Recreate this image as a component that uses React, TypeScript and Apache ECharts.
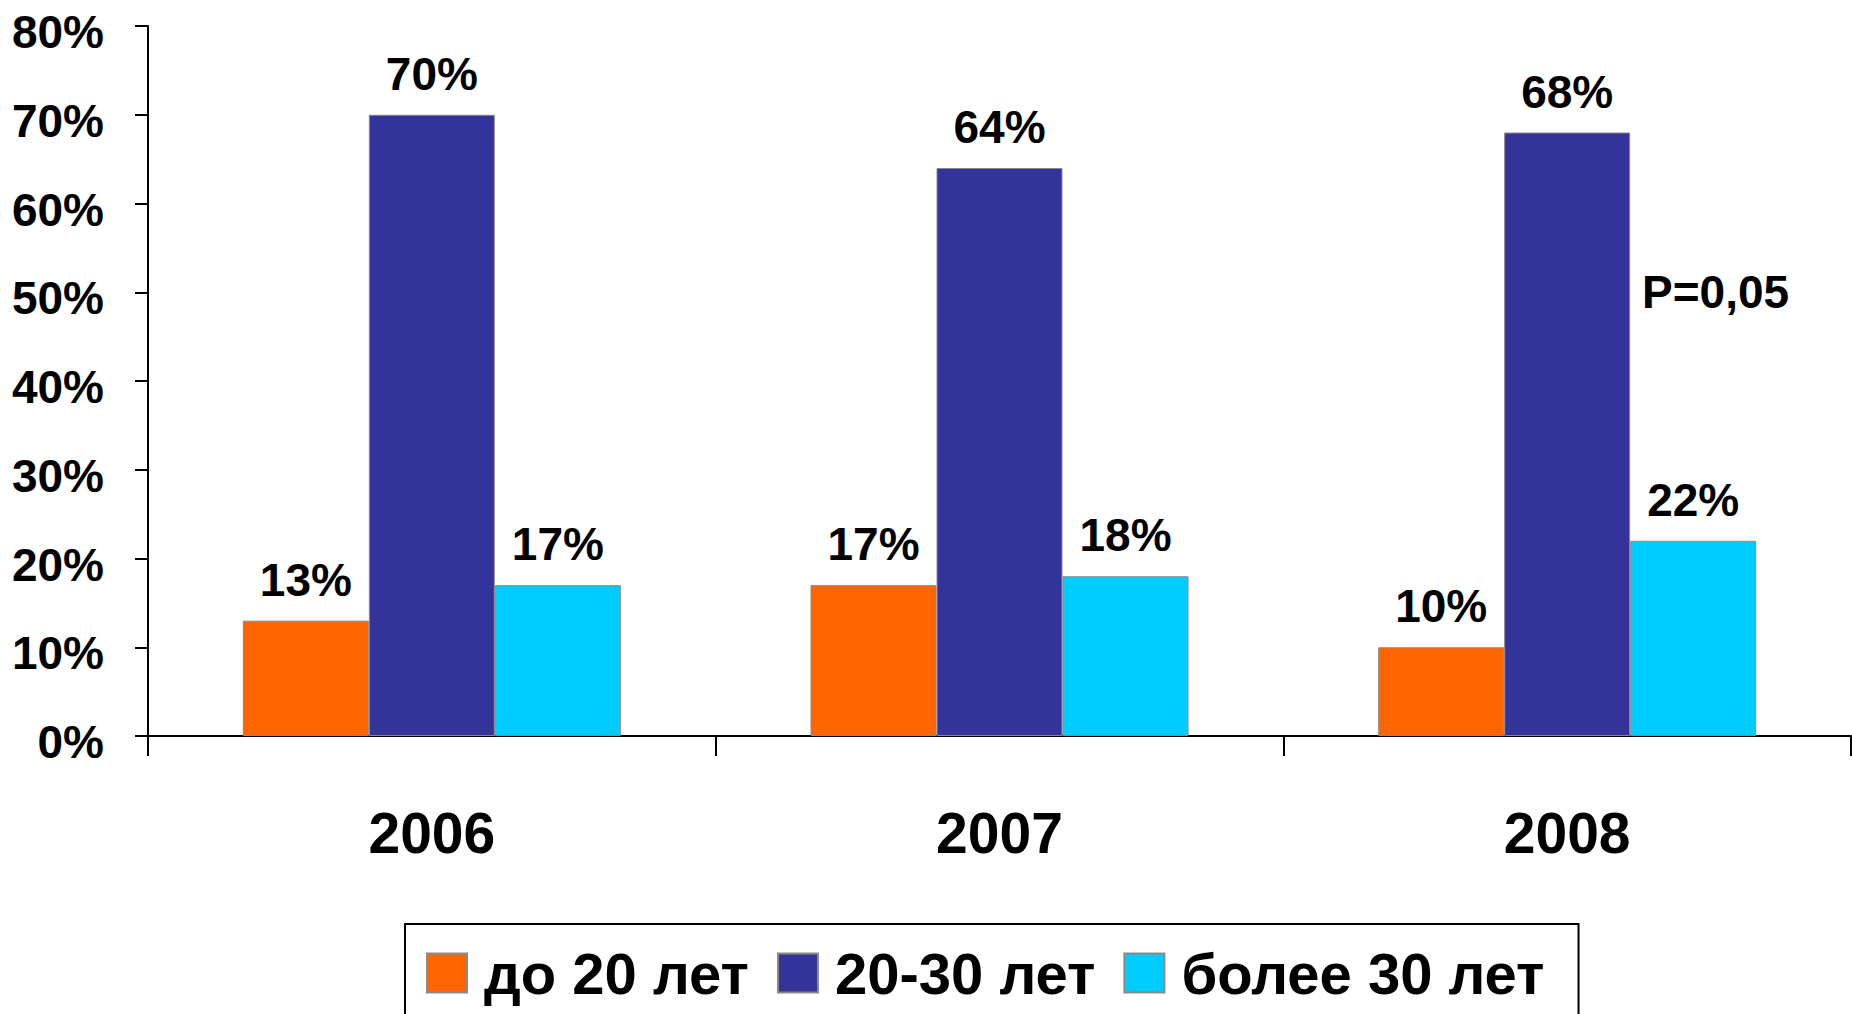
import React, { useEffect, useRef } from "react";
import * as echarts from "echarts";

const categories = ["2006", "2007", "2008"];
const seriesNames = ["до 20 лет", "20-30 лет", "более 30 лет"];
const under20 = [13, 17, 10];
const from20to30 = [70, 64, 68];
const over30 = [17, 18, 22];
const colors = ["#FF6600", "#333399", "#00CCFF"];
const annotation = "P=0,05";

const FONT = "'Liberation Sans', Arial, sans-serif";

export default function App() {
  const ref = useRef<HTMLDivElement>(null);
  useEffect(() => {
    document.body.style.margin = "0";
    const chart = echarts.init(ref.current!, null, { renderer: "svg" });
    const values = [under20, from20to30, over30];
    const labelStyle = {
      show: true,
      position: "top",
      distance: 18,
      formatter: "{c}%",
      color: "#000",
      fontSize: 46,
      fontWeight: "bold",
      fontFamily: FONT,
    };
    chart.setOption({
      animation: false,
      backgroundColor: "#fff",
      grid: { left: 148, right: 1, top: 26, height: 710, containLabel: false },
      legend: {
        left: 405,
        top: 924,
        orient: "horizontal",
        borderColor: "#000",
        borderWidth: 2,
        padding: [20, 34, 40, 21],
        itemWidth: 40,
        itemHeight: 39,
        itemGap: 28,
        icon: "rect",
        textStyle: {
          fontSize: 58,
          fontWeight: "bold",
          fontFamily: FONT,
          color: "#000",
          padding: [0, 0, 0, 12],
        },
        data: seriesNames,
      },
      xAxis: {
        type: "category",
        data: categories,
        boundaryGap: true,
        axisLine: { show: true, lineStyle: { color: "#000", width: 2 } },
        axisTick: { show: true, alignWithLabel: false, length: 20, lineStyle: { color: "#000", width: 2 } },
        axisLabel: { margin: 68, fontSize: 57, fontWeight: "bold", fontFamily: FONT, color: "#000" },
        splitLine: { show: false },
      },
      yAxis: {
        type: "value",
        min: 0,
        max: 80,
        interval: 10,
        axisLine: { show: true, lineStyle: { color: "#000", width: 2 } },
        axisTick: { show: true, inside: false, length: 13, lineStyle: { color: "#000", width: 2 } },
        axisLabel: {
          formatter: "{v|{value}%}",
          margin: 44,
          rich: {
            v: {
              fontSize: 46,
              fontWeight: "bold",
              fontFamily: FONT,
              color: "#000",
              padding: [12, 0, 0, 0],
            },
          },
        },
        splitLine: { show: false },
      },
      series: seriesNames.map((name, i) => ({
        name,
        type: "bar",
        data: values[i],
        barWidth: 126,
        barGap: "0%",
        itemStyle: { color: colors[i], borderColor: "#8a8a8a", borderWidth: 1 },
        label: labelStyle,
      })),
      graphic: [
        {
          type: "text",
          x: 1642,
          y: 292,
          style: {
            text: annotation,
            fontSize: 46,
            fontWeight: "bold",
            fontFamily: FONT,
            fill: "#000",
            verticalAlign: "middle",
            align: "left",
          },
        },
      ],
    });
    return () => chart.dispose();
  }, []);
  return <div ref={ref} style={{ width: 1852, height: 1014 }} />;
}
